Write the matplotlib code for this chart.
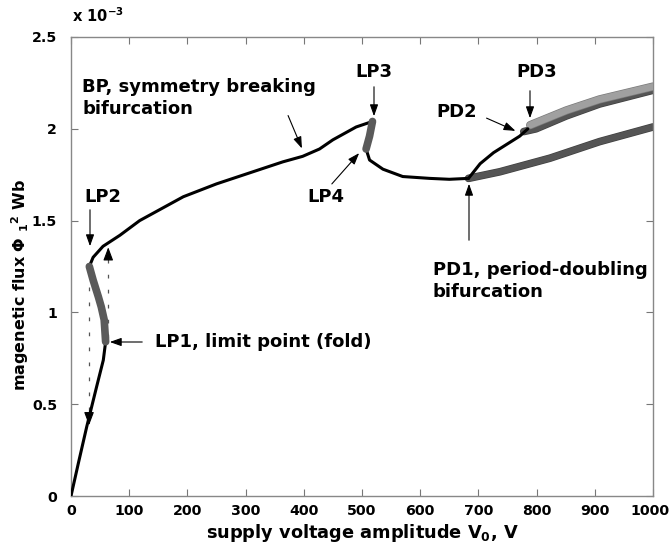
import matplotlib
matplotlib.use("Agg")
import matplotlib.pyplot as plt
import matplotlib.patheffects as pe
import matplotlib.transforms as mtransforms

plt.rcParams['font.family'] = ['DejaVu Sans']
plt.rcParams['font.weight'] = 'bold'
plt.rcParams['mathtext.fontset'] = 'dejavusans'
plt.rcParams['mathtext.default'] = 'bf'

# ---- data (flux in units of 1e-3 Wb) ----
stable1_x = [0, 12.6, 27, 44, 55.5, 59.5]
stable1_y = [0, 0.178, 0.377, 0.595, 0.74, 0.84]

unstable1_x = [59.5, 57, 52, 47, 38, 31.5]
unstable1_y = [0.84, 0.96, 1.03, 1.085, 1.176, 1.25]

stable2_x = [31.5, 38, 55, 84, 118, 193, 250, 307, 364, 398, 427, 450, 490, 518]
stable2_y = [1.25, 1.30, 1.36, 1.42, 1.50, 1.63, 1.70, 1.76, 1.82, 1.85, 1.89, 1.94, 2.01, 2.04]

unstable2_x = [518, 513, 507]
unstable2_y = [2.04, 1.96, 1.89]

stable3_x = [507, 513, 536, 570, 616, 650, 683]
stable3_y = [1.89, 1.83, 1.78, 1.74, 1.73, 1.725, 1.73]

stable4_x = [683, 703, 726, 771, 785]
stable4_y = [1.73, 1.81, 1.87, 1.96, 2.00]

pd_upper_light_x = [789, 851, 908, 1000]
pd_upper_light_y = [2.02, 2.10, 2.16, 2.23]

pd_upper_dark_x = [778, 799, 851, 908, 1000]
pd_upper_dark_y = [1.985, 2.00, 2.07, 2.135, 2.21]

pd_lower_x = [683, 737, 823, 908, 1000]
pd_lower_y = [1.73, 1.766, 1.84, 1.93, 2.01]

jump_down_x = [31, 31]
jump_down_y = [1.22, 0.45]
jump_up_x = [64, 64]
jump_up_y = [0.86, 1.30]

xticks = [0, 100, 200, 300, 400, 500, 600, 700, 800, 900, 1000]
yticks = [0, 0.5, 1, 1.5, 2, 2.5]
ytick_labels = ['0', '0.5', '1', '1.5', '2', '2.5']

# ---- figure ----
fig = plt.figure(figsize=(6.71, 5.51), dpi=100)
ax = fig.add_axes([71/671, 1 - 496/551, (653-71)/671, (496-37)/551])

dark = '#555555'
light = '#a0a0a0'

ax.plot(pd_lower_x, pd_lower_y, color=dark, lw=4.5, solid_capstyle='round',
        path_effects=[pe.Stroke(linewidth=5.5, foreground='#404040'), pe.Normal()], zorder=2)
ax.plot(pd_upper_dark_x, pd_upper_dark_y, color=dark, lw=4.5, solid_capstyle='round',
        path_effects=[pe.Stroke(linewidth=5.5, foreground='#404040'), pe.Normal()], zorder=2)
ax.plot(pd_upper_light_x, pd_upper_light_y, color=light, lw=5, solid_capstyle='round',
        path_effects=[pe.Stroke(linewidth=6, foreground='#7a7a7a'), pe.Normal()], zorder=3)

for xs, ys in [(stable1_x, stable1_y), (stable2_x, stable2_y),
               (stable3_x, stable3_y), (stable4_x, stable4_y)]:
    ax.plot(xs, ys, color='black', lw=2.2, solid_capstyle='round', zorder=4)
for xs, ys in [(unstable1_x, unstable1_y), (unstable2_x, unstable2_y)]:
    ax.plot(xs, ys, color='#5a5a5a', lw=5.5, solid_capstyle='round', zorder=5)

# dashed jump lines
ax.plot(jump_down_x, jump_down_y, color='#555555', lw=0.9, dashes=(3, 9), zorder=1)
ax.plot(jump_up_x, jump_up_y, color='#555555', lw=0.9, dashes=(3, 9), zorder=1)
ax.annotate('', xy=(jump_down_x[1], jump_down_y[1] - 0.08), xytext=(jump_down_x[1], jump_down_y[1]),
            arrowprops=dict(arrowstyle='-|>,head_length=0.8,head_width=0.3', color='black', lw=0.8))
ax.annotate('', xy=(jump_up_x[1], jump_up_y[1] + 0.07), xytext=(jump_up_x[1], jump_up_y[1]),
            arrowprops=dict(arrowstyle='-|>,head_length=0.8,head_width=0.3', color='black', lw=0.8))

ax.set_xlim(0, 1000)
ax.set_ylim(0, 2.5)
ax.set_xticks(xticks)
ax.set_yticks(yticks)
ax.set_yticklabels(ytick_labels)
ax.tick_params(direction='in', length=5, width=0.8, colors='#777777', labelcolor='black',
               labelsize=10.2, top=True, right=True)
ax.tick_params(axis='y', pad=10)
ax.tick_params(axis='x', pad=6)
for lab in ax.get_xticklabels() + ax.get_yticklabels():
    lab.set_fontweight('bold')
# keep the last x tick label inside the canvas
last = ax.get_xticklabels()[-1]
last.set_transform(last.get_transform() + mtransforms.ScaledTranslation(-3/100, 0, fig.dpi_scale_trans))
for s in ax.spines.values():
    s.set_color('#888888')
    s.set_linewidth(1.0)

ax.set_xlabel('supply voltage amplitude V$_0$, V', fontsize=12.8, fontweight='bold', labelpad=3)
ax.set_ylabel('magenetic flux $\\Phi$ $_1$$^2$ Wb', fontsize=11.5, fontweight='bold')
ax.yaxis.set_label_coords(-0.068, 0.46)
fig.text(72/671, 1 - 25/551, 'x 10$^{-3}$', fontsize=10.5, fontweight='bold', ha='left', va='bottom')

# annotations
akw = dict(arrowstyle='-|>,head_length=0.7,head_width=0.25', color='black', lw=0.8)
tkw = dict(fontsize=13, fontweight='bold')

def px(x, y):
    return ((x - 71) / 0.582, (496 - y) / 183.6)

ax.annotate('', xy=px(90, 249), xytext=px(90, 207), arrowprops=akw)
ax.text(*px(84, 197), 'LP2', ha='left', va='center', **tkw)

ax.annotate('', xy=px(107, 342), xytext=px(145, 342), arrowprops=akw)
ax.text(*px(155, 342), 'LP1, limit point (fold)', ha='left', va='center', **tkw)

ax.annotate('', xy=px(303, 151), xytext=px(287, 113), arrowprops=akw)
ax.text(*px(82, 98), 'BP, symmetry breaking\nbifurcation', ha='left', va='center',
        linespacing=1.3, **tkw)

ax.annotate('', xy=px(374, 119), xytext=px(374, 84), arrowprops=akw)
ax.text(*px(374, 72), 'LP3', ha='center', va='center', **tkw)

ax.annotate('', xy=px(361, 151), xytext=px(330, 186), arrowprops=akw)
ax.text(*px(326, 197), 'LP4', ha='center', va='center', **tkw)

ax.annotate('', xy=px(469, 181), xytext=px(469, 243), arrowprops=akw)
ax.text(*px(433, 281), 'PD1, period-doubling\nbifurcation', ha='left', va='center',
        linespacing=1.3, **tkw)

ax.annotate('', xy=px(518, 132), xytext=px(484, 117), arrowprops=akw)
ax.text(*px(457, 112), 'PD2', ha='center', va='center', **tkw)

ax.annotate('', xy=px(530, 121), xytext=px(530, 88), arrowprops=akw)
ax.text(*px(537, 72), 'PD3', ha='center', va='center', **tkw)

fig.savefig('out.png', dpi=100)
